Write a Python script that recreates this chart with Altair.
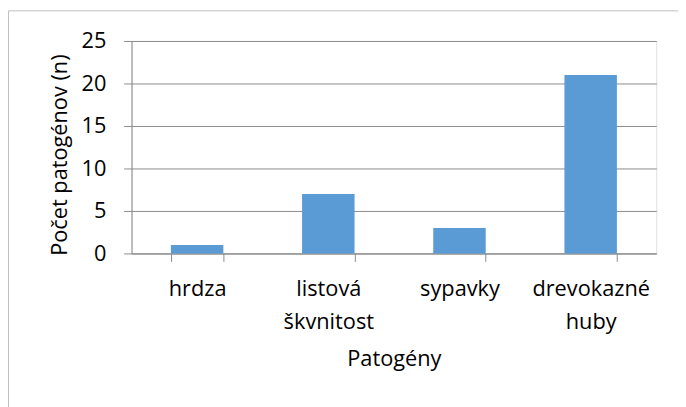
import altair as alt
import pandas as pd

categories = ["hrdza", "listová škvnitost", "sypavky", "drevokazné huby"]
values = [1, 7, 3, 21]
y_ticks = [0, 5, 10, 15, 20, 25]

df = pd.DataFrame({"kat": categories, "n": values})
FONT = "Open Sans"
FS = 22
GRAY = "#8A8A8A"

bars = alt.Chart(df).mark_bar(color="#5B9BD5").encode(
    x=alt.X(
        "kat:N",
        sort=categories,
        scale=alt.Scale(paddingInner=0.6, paddingOuter=0.3),
        axis=alt.Axis(
            title="Patogény",
            labelAngle=0,
            labelExpr="split(datum.label, ' ')",
            labelFont=FONT,
            labelFontSize=FS,
            labelColor="#000000",
            labelBaseline="alphabetic",
            labelPadding=35,
            labelLineHeight=33,
            labelLimit=300,
            tickBand="extent",
            tickSize=8,
            tickColor=GRAY,
            domainColor=GRAY,
            titleFont=FONT,
            titleFontSize=FS,
            titleFontWeight="normal",
            titleColor="#000000",
            titleBaseline="alphabetic",
            titleY=113,
        ),
    ),
    y=alt.Y(
        "n:Q",
        scale=alt.Scale(domain=[0, 25], nice=False),
        axis=alt.Axis(
            title="Počet patogénov (n)",
            values=y_ticks,
            grid=True,
            gridColor=GRAY,
            tickSize=8,
            tickColor=GRAY,
            domainColor=GRAY,
            labelFont=FONT,
            labelFontSize=FS,
            labelColor="#000000",
            labelPadding=18,
            titleFont=FONT,
            titleFontSize=FS,
            titleFontWeight="normal",
            titleColor="#000000",
            titleAngle=270,
            titleAlign="center",
            titleBaseline="alphabetic",
            titleX=-66,
            titleY=115,
        ),
    ),
)

border = alt.Chart(pd.DataFrame({"a": [0]})).mark_rect(
    fill="transparent", stroke="#BFBFBF", strokeWidth=1
).encode(
    x=alt.value(-124.5),
    y=alt.value(-30.5),
    x2=alt.value(900),
    y2=alt.value(600),
)

chart = alt.layer(border, bars).properties(
    width=531,
    height=215,
    padding={"left": 125, "top": 31, "right": 22, "bottom": 153},
    autosize=alt.AutoSizeParams(type="none"),
).configure_view(strokeOpacity=0).configure(background="white")

chart.save("out.html", embed_options={"renderer": "svg", "actions": False})
